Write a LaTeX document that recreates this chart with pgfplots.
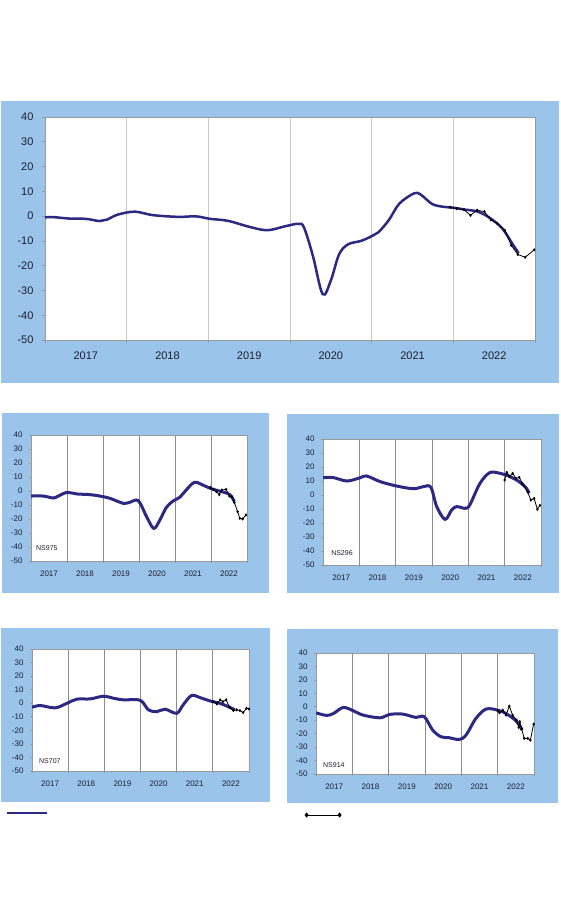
\documentclass[border=0pt]{standalone}
\usepackage{pgfplots}
\pgfplotsset{compat=1.18}
\usepackage{fontspec}
\setmainfont{Liberation Sans}
\definecolor{panelblue}{RGB}{155,196,235}
\definecolor{trend}{RGB}{45,40,130}
\definecolor{labcol}{RGB}{30,30,50}
\definecolor{gridlight}{RGB}{200,200,200}
\definecolor{griddark}{RGB}{140,140,140}
\pgfplotsset{
  panel/.style={
    scale only axis, anchor=south west,
    xmin=2017, xmax=2023, ymin=-50, ymax=40,
    xtick={2017,2018,2019,2020,2021,2022,2023},
    x tick label as interval,
    xticklabels={2017,2018,2019,2020,2021,2022,{}},
    ytick={-50,-40,-30,-20,-10,0,10,20,30,40},
    yticklabels={-50,-40,-30,-20,-10,0,10,20,30,40},
    axis background/.style={fill=white},
    axis line style={draw=gray!80},
    tick style={draw=gray!80, line width=0.6pt},
    tick align=outside, tick pos=left,
    xmajorgrids,
    ticklabel style={text=labcol},
  },
  bigpanel/.style={panel,
    major tick length=3pt,
    ticklabel style={font=\fontsize{11}{13}\selectfont},
    xticklabel style={yshift=-5pt},
    yticklabel style={xshift=-5pt},
    major x grid style={draw=gridlight, line width=0.8pt},
  },
  smallpanel/.style={panel,
    major tick length=2pt,
    ticklabel style={font=\fontsize{8}{10}\selectfont},
    xticklabel style={yshift=-4.5pt},
    yticklabel style={xshift=-3pt},
    major x grid style={draw=griddark, line width=0.8pt},
  },
  tr/.style={trend, line width=2.5pt, smooth, tension=0.55, no marks},
  trs/.style={trend, line width=3pt, smooth, tension=0.55, no marks},
  act/.style={black, line width=0.8pt, mark=diamond*, mark size=1pt, mark options={solid}},
}
\newcommand{\nslabel}[3]{\node[anchor=west, font=\fontsize{7}{8}\selectfont, text=labcol, inner sep=0pt] at (axis description cs:#1,#2) {#3};}
\begin{document}
\begin{tikzpicture}
\path[use as bounding box, fill=white] (0pt,0pt) rectangle (560pt,-900pt);
% panels
\fill[panelblue] (1pt,-101pt) rectangle (559pt,-383pt);
\fill[panelblue] (2pt,-413pt) rectangle (269pt,-593pt);
\fill[panelblue] (287pt,-414pt) rectangle (559pt,-593pt);
\fill[panelblue] (1pt,-628pt) rectangle (270pt,-802pt);
\fill[panelblue] (287pt,-629pt) rectangle (558pt,-803pt);

% ===== main chart =====
\begin{axis}[bigpanel, width=490pt, height=223pt, at={(45pt,-340pt)}]
\addplot[tr] coordinates {
(2017.0,-0.5) (2017.1,-0.4) (2017.3,-1.0) (2017.5,-1.1) (2017.67,-2.0) (2017.76,-1.4)
(2017.89,0.6) (2018.1,1.8) (2018.32,0.4) (2018.63,-0.3) (2018.85,-0.1) (2019.02,-1.1)
(2019.24,-1.9) (2019.5,-4.3) (2019.72,-5.7) (2019.94,-4.1) (2020.1,-3.1) (2020.17,-4.5)
(2020.28,-16) (2020.4,-31.5) (2020.5,-26) (2020.6,-15.5) (2020.71,-11.4) (2020.87,-10)
(2021.0,-8.1) (2021.08,-6.6) (2021.21,-1.6) (2021.34,5.1) (2021.52,9.2) (2021.6,8.7)
(2021.74,4.9) (2021.87,3.8) (2022.0,3.4) (2022.15,2.6) (2022.3,1.8) (2022.45,-0.8)
(2022.6,-5) (2022.72,-11) (2022.8,-15)
};
\addplot[act] coordinates {
(2021.96,3.6) (2022.04,3.0) (2022.13,2.6) (2022.21,0.3) (2022.29,2.4) (2022.38,1.8)
(2022.46,-1.5) (2022.54,-3.0) (2022.63,-5.7) (2022.71,-11.8) (2022.79,-15.5)
(2022.88,-16.6) (2022.99,-13.6)
};
\end{axis}

% ===== NS975 =====
\begin{axis}[smallpanel, width=216pt, height=126pt, at={(31pt,-561pt)}]
\addplot[trs] coordinates {
(2017.0,-3.6) (2017.34,-3.6) (2017.62,-5) (2017.76,-3.6) (2018.0,-1) (2018.27,-2.1)
(2018.64,-2.6) (2018.91,-3.6) (2019.19,-5.2) (2019.56,-8.8) (2019.74,-8.1) (2019.98,-6.9)
(2020.21,-18.3) (2020.41,-26.7) (2020.58,-20.7) (2020.76,-11.7) (2020.95,-7.1)
(2021.13,-4.5) (2021.31,0.7) (2021.54,6.2) (2021.77,4.3) (2021.98,1.9) (2022.23,0)
(2022.51,-2.4) (2022.65,-7.6)
};
\addplot[act] coordinates {
(2021.98,2.6) (2022.06,1.0) (2022.15,-0.5) (2022.23,-2.6) (2022.3,0.7) (2022.42,1.2)
(2022.51,-3.6) (2022.58,-4) (2022.65,-8.3) (2022.74,-14.8) (2022.8,-19.5) (2022.88,-20)
(2022.97,-17.1)
};
\nslabel{0.023}{0.103}{NS975}
\end{axis}

% ===== NS296 =====
\begin{axis}[smallpanel, width=218pt, height=126pt, at={(323pt,-565pt)}]
\addplot[trs] coordinates {
(2017.0,12.4) (2017.29,12.4) (2017.66,10) (2018.03,12.4) (2018.2,13.6) (2018.58,9.5)
(2019.03,6.4) (2019.49,4.5) (2019.77,6) (2019.97,5.5) (2020.13,-8.3) (2020.36,-17.4)
(2020.54,-10.7) (2020.68,-8.3) (2020.91,-9.5) (2021.04,-7.1) (2021.32,8.3) (2021.59,16)
(2021.87,15.5) (2022.05,14.3) (2022.37,10) (2022.6,4.8) (2022.67,1.2)
};
\addplot[act] coordinates {
(2022.0,10.7) (2022.06,16.2) (2022.13,13.1) (2022.22,15.5) (2022.31,11.9) (2022.4,12.6)
(2022.49,8.3) (2022.63,2.4) (2022.72,-3.6) (2022.81,-2.4) (2022.9,-10.2) (2022.97,-7.4)
};
\nslabel{0.037}{0.095}{NS296}
\end{axis}

% ===== NS707 =====
\begin{axis}[smallpanel, width=217pt, height=122pt, at={(32pt,-771pt)},
  legend style={at={(axis description cs:-0.12,-0.344)}, anchor=west, draw=none, fill=none, inner sep=0pt, outer sep=0pt},
  legend cell align=left,
  legend image code/.code={\draw[#1] (0pt,0pt) -- (40pt,0pt);}]
\addlegendimage{trend, line width=1.5pt}
\addlegendentry{\mbox{}}
\addplot[trs, forget plot] coordinates {
(2017.0,-3) (2017.23,-1.7) (2017.64,-3.4) (2017.97,0) (2018.24,3) (2018.61,3.2)
(2018.98,5.2) (2019.25,3.7) (2019.53,2.5) (2019.99,2.2) (2020.22,-4.9) (2020.45,-6.2)
(2020.68,-4.4) (2021.0,-7.4) (2021.18,-1.2) (2021.41,5.7) (2021.64,4.2) (2021.92,1.7)
(2022.19,0) (2022.47,-3) (2022.61,-4.9)
};
\addplot[act, forget plot] coordinates {
(2022.0,1.2) (2022.11,-0.5) (2022.2,2.5) (2022.28,1.2) (2022.37,2.5) (2022.46,-3)
(2022.57,-5.4) (2022.66,-4.9) (2022.75,-5.4) (2022.84,-6.9) (2022.93,-3.7) (2023.0,-4.2)
};
\nslabel{0.032}{0.082}{NS707}
\end{axis}

% ===== NS914 =====
\begin{axis}[smallpanel, width=218pt, height=121pt, at={(316pt,-774pt)},
  legend style={at={(axis description cs:-0.05,-0.339)}, anchor=west, draw=none, fill=none, inner sep=0pt, outer sep=0pt},
  legend cell align=left,
  legend image code/.code={\draw[#1] plot coordinates {(0pt,0pt) (33pt,0pt)};}]
\addlegendimage{black, line width=0.8pt, mark=diamond*, mark size=2pt}
\addlegendentry{\mbox{}}
\addplot[trs, forget plot] coordinates {
(2017.0,-4.5) (2017.29,-6.4) (2017.48,-5) (2017.75,-0.5) (2018.03,-3) (2018.3,-6.2)
(2018.76,-8.2) (2019.02,-5.7) (2019.38,-5.4) (2019.75,-7.9) (2019.98,-7.4) (2020.21,-17.3)
(2020.44,-22.3) (2020.66,-23) (2020.94,-24.3) (2021.13,-21) (2021.4,-8.7) (2021.68,-1.7)
(2022.0,-2.5) (2022.23,-5) (2022.46,-9.4) (2022.6,-13.6) (2022.67,-17.3)
};
\addplot[act, forget plot] coordinates {
(2022.0,-3) (2022.05,-4.5) (2022.14,-2.5) (2022.23,-6.2) (2022.32,0.5) (2022.41,-6.2)
(2022.52,-9.9) (2022.58,-15.3) (2022.61,-11.1) (2022.66,-16.6) (2022.73,-23.5)
(2022.83,-23.5) (2022.9,-24.8) (2022.99,-12.9)
};
\nslabel{0.032}{0.074}{NS914}
\end{axis}
\end{tikzpicture}
\end{document}
